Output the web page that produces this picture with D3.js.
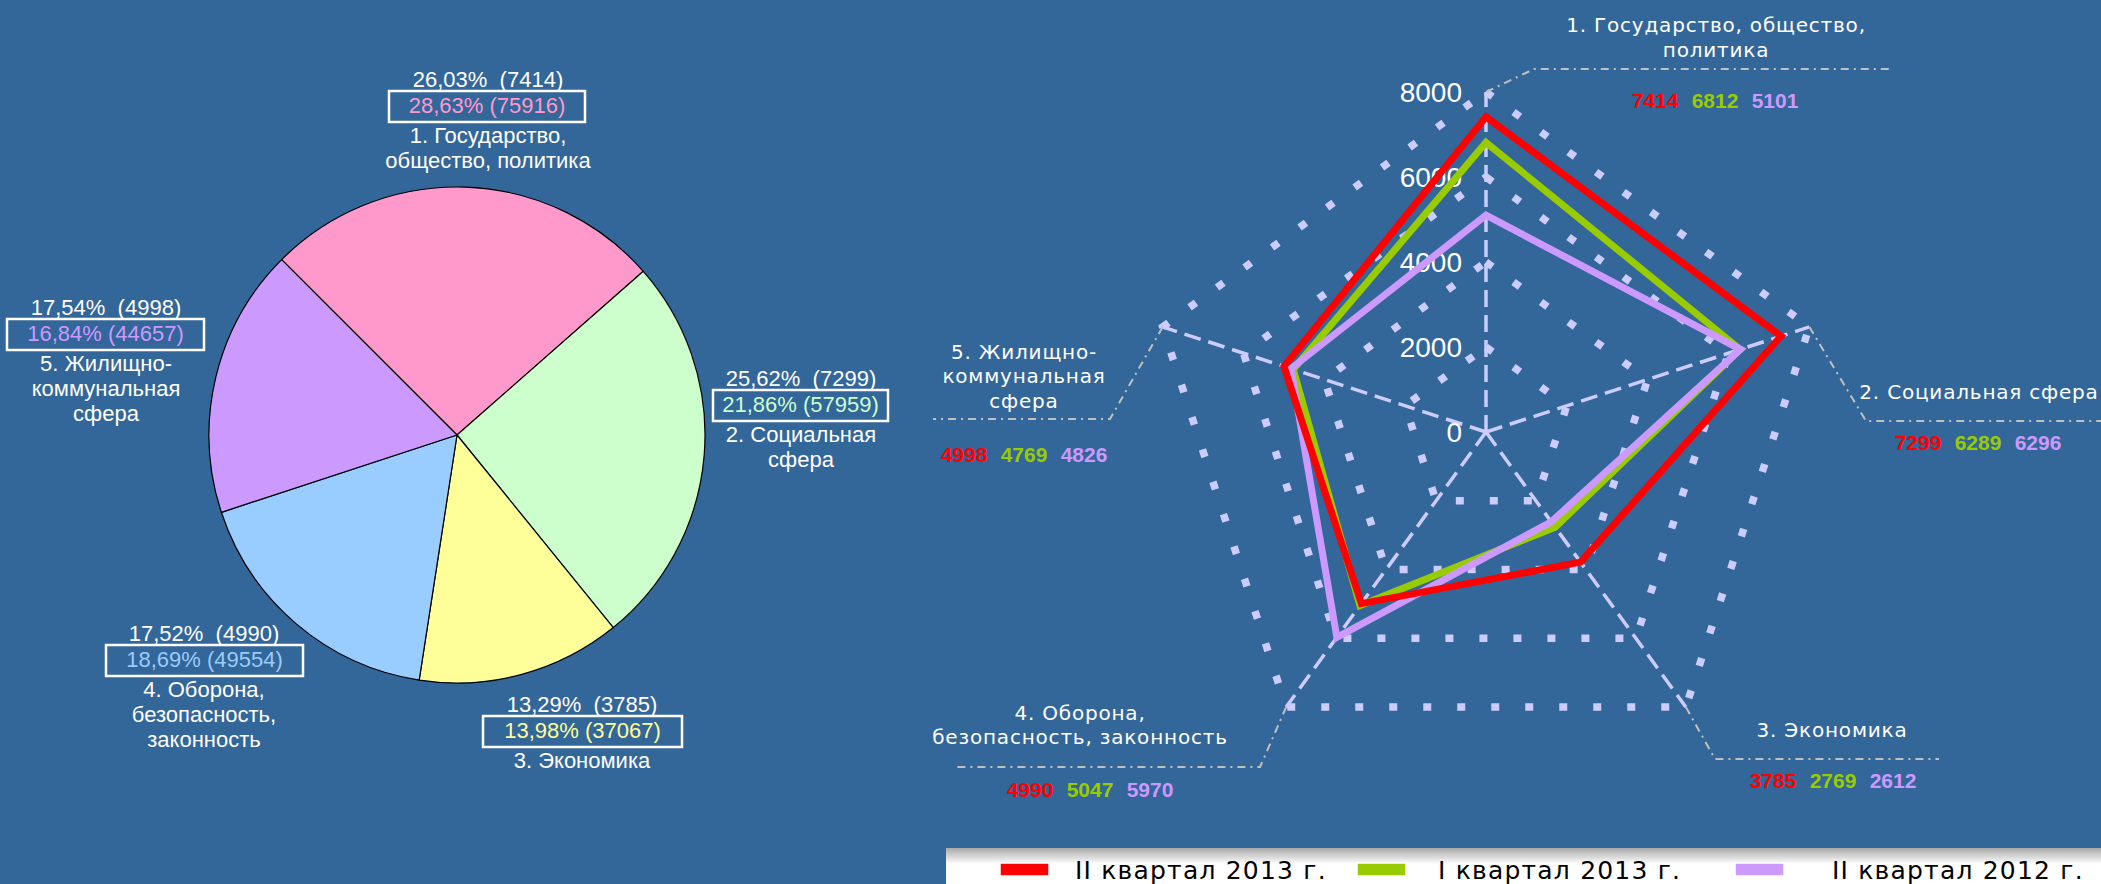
<!DOCTYPE html>
<html><head><meta charset="utf-8">
<script src="https://cdn.jsdelivr.net/npm/d3@7"></script>
<style>html,body{margin:0;padding:0;background:#336699;overflow:hidden}svg{display:block}</style>
</head><body>
<svg id="chart" width="2101" height="884"></svg>
<script>
// ---------- DATA ----------
const categoryIds = ["c1", "c2", "c3", "c4", "c5"];
const pieLabelLines = [
  ["1. Государство,", "общество, политика"],
  ["2. Социальная", "сфера"],
  ["3. Экономика"],
  ["4. Оборона,", "безопасность,", "законность"],
  ["5. Жилищно-", "коммунальная", "сфера"]
];
const radarLabelLines = [
  ["1. Государство, общество,", "политика"],
  ["2. Социальная сфера"],
  ["3. Экономика"],
  ["4. Оборона,", "безопасность, законность"],
  ["5. Жилищно-", "коммунальная", "сфера"]
];
const pieValues = [7414, 7299, 3785, 4990, 4998];
const piePercents = ["26,03%", "25,62%", "13,29%", "17,52%", "17,54%"];
const prevPercents = ["28,63%", "21,86%", "13,98%", "18,69%", "16,84%"];
const prevValues = [75916, 57959, 37067, 49554, 44657];
const seriesNames = ["II квартал 2013 г.", "I квартал 2013 г.", "II квартал 2012 г."];
const q2_2013 = [7414, 7299, 3785, 4990, 4998];
const q1_2013 = [6812, 6289, 2769, 5047, 4769];
const q2_2012 = [5101, 6296, 2612, 5970, 4826];
const radarTicks = [0, 2000, 4000, 6000, 8000];

// ---------- STYLE / LAYOUT ----------
const pieColors = ["#FF99CC", "#CCFFCC", "#FFFF99", "#99CCFF", "#CC99FF"];
const seriesColors = ["#FF0000", "#99CC00", "#CC99FF"];
const gridColor = "#CCCCFF";
const svg = d3.select("#chart");
svg.append("rect").attr("width", 2101).attr("height", 884).attr("fill", "#336699");

// ---------- PIE ----------
const pieC = {x: 457, y: 435, r: 248};
const pie = d3.pie().sort(null).value(d => d)
  .startAngle(-Math.PI / 4).endAngle(2 * Math.PI - Math.PI / 4);
const arc = d3.arc().innerRadius(0).outerRadius(pieC.r);
const pg = svg.append("g").attr("transform", `translate(${pieC.x},${pieC.y})`);
pg.selectAll("path").data(pie(pieValues)).join("path")
  .attr("d", arc).attr("fill", (d, i) => pieColors[i])
  .attr("stroke", "#000").attr("stroke-width", 1.2).attr("stroke-linejoin", "round");

const pieLabelPos = [
  {cx: 488, y0: 87, bx0: 389, bx1: 585},
  {cx: 801, y0: 386, bx0: 713, bx1: 888},
  {cx: 582, y0: 712, bx0: 483, bx1: 682},
  {cx: 204, y0: 641, bx0: 106, bx1: 303},
  {cx: 106, y0: 315, bx0: 7, bx1: 204}
];
const pieFont = "'Liberation Sans', Arial, sans-serif";
pieLabelPos.forEach((p, i) => {
  const g = svg.append("g").attr("font-family", pieFont).attr("font-size", 22)
    .attr("text-anchor", "middle");
  g.append("text").attr("x", p.cx).attr("y", p.y0).attr("fill", "#fff")
    .attr("xml:space", "preserve")
    .text(`${piePercents[i]}  (${pieValues[i]})`);
  g.append("rect").attr("x", p.bx0).attr("y", p.y0 + 4)
    .attr("width", p.bx1 - p.bx0).attr("height", 31)
    .attr("fill", "none").attr("stroke", "#fff").attr("stroke-width", 2.5);
  g.append("text").attr("x", (p.bx0 + p.bx1) / 2).attr("y", p.y0 + 26)
    .attr("fill", pieColors[i]).text(`${prevPercents[i]} (${prevValues[i]})`);
  pieLabelLines[i].forEach((ln, k) => {
    g.append("text").attr("x", p.cx).attr("y", p.y0 + 56 + k * 25)
      .attr("fill", "#fff").text(ln);
  });
});

// ---------- RADAR ----------
const rc = {x: 1486, y: 432};
const rScale = d3.scaleLinear().domain([0, 8000]).range([0, 340]);
const angle = d3.scalePoint().domain(categoryIds).range([0, 2 * Math.PI * 4 / 5]);
const pt = (i, v) => {
  const a = angle(categoryIds[i]);
  return [rc.x + rScale(v) * Math.sin(a), rc.y - rScale(v) * Math.cos(a)];
};
const rg = svg.append("g");
// gridlines
radarTicks.filter(t => t > 0).forEach(t => {
  rg.append("path")
    .attr("d", d3.line()(categoryIds.map((c, i) => pt(i, t))) + "Z")
    .attr("fill", "none").attr("stroke", gridColor).attr("stroke-width", 7.5)
    .attr("stroke-dasharray", "8,26");
});
// spokes
categoryIds.forEach((c, i) => {
  const [x, y] = pt(i, 8000);
  rg.append("line").attr("x1", rc.x).attr("y1", rc.y).attr("x2", x).attr("y2", y)
    .attr("stroke", gridColor).attr("stroke-width", 3.5).attr("stroke-dasharray", "17,8");
});
// tick labels
rg.selectAll("text.tick").data(radarTicks).join("text").attr("class", "tick")
  .attr("x", 1462).attr("y", d => rc.y - rScale(d)).attr("dy", "0.36em")
  .attr("text-anchor", "end").attr("fill", "#fff")
  .attr("font-family", pieFont).attr("font-size", 28).text(d => d);

// series
const series = [q2_2013, q1_2013, q2_2012];
const drawOrder = [1, 2, 0];
drawOrder.forEach(s => {
  rg.append("path")
    .attr("d", d3.line()(series[s].map((v, i) => pt(i, v))) + "Z")
    .attr("fill", "none").attr("stroke", seriesColors[s]).attr("stroke-width", 7)
    .attr("stroke-linejoin", "miter").attr("stroke-miterlimit", 10);
});

// category labels + leaders + data labels
const radarLabelPos = [
  {cx: 1716, ys: [32, 57], dcx: 1715, dy: 108, leader: [[1534, 69], [1892, 69]]},
  {cx: 1979, ys: [399], dcx: 1978, dy: 450, leader: [[1866, 421], [2101, 421]]},
  {cx: 1832, ys: [737], dcx: 1833, dy: 788, leader: [[1715, 759], [1939, 759]]},
  {cx: 1080, ys: [720, 744], dcx: 1090, dy: 797, leader: [[1260, 767], [954, 767]]},
  {cx: 1024, ys: [359, 383, 408], dcx: 1024, dy: 462, leader: [[1110, 419], [933, 419]]}
];
const vFont = "'DejaVu Sans', Verdana, sans-serif";
radarLabelPos.forEach((p, i) => {
  const start = pt(i, 8000);
  rg.append("path").attr("d", d3.line()([start, ...p.leader]))
    .attr("fill", "none").attr("stroke", "#C0C0C0").attr("stroke-width", 2)
    .attr("stroke-dasharray", "8,5,2,5");
  radarLabelLines[i].forEach((ln, k) => {
    rg.append("text").attr("x", p.cx).attr("y", p.ys[k]).attr("text-anchor", "middle")
      .attr("fill", "#fff").attr("font-family", vFont).attr("font-size", 20)
      .attr("letter-spacing", 0.8).text(ln);
  });
  series.forEach((s, si) => {
    rg.append("text").attr("x", p.dcx + (si - 1) * 60).attr("y", p.dy)
      .attr("text-anchor", "middle").attr("fill", seriesColors[si])
      .attr("font-family", pieFont).attr("font-weight", "bold").attr("font-size", 21)
      .text(s[i]);
  });
});

// ---------- LEGEND ----------
const defs = svg.append("defs");
const grad = defs.append("linearGradient").attr("id", "lg").attr("x1", 0).attr("y1", 0).attr("x2", 0).attr("y2", 1);
grad.append("stop").attr("offset", "0%").attr("stop-color", "#A8A8A8");
grad.append("stop").attr("offset", "40%").attr("stop-color", "#FFFFFF");
grad.append("stop").attr("offset", "100%").attr("stop-color", "#FFFFFF");
const lgd = svg.append("g");
lgd.append("rect").attr("x", 946).attr("y", 848).attr("width", 1155).attr("height", 40).attr("fill", "url(#lg)");
const legendRectX = [1000, 1357, 1735];
const legendTextX = [1075, 1438, 1832];
seriesNames.forEach((n, i) => {
  lgd.append("rect").attr("x", legendRectX[i]).attr("y", 863).attr("width", 49).attr("height", 13)
    .attr("fill", seriesColors[i]).attr("stroke", "#fff").attr("stroke-width", 1.5);
  lgd.append("text").attr("x", legendTextX[i]).attr("y", 879).attr("fill", "#000")
    .attr("font-family", vFont).attr("font-size", 25).attr("letter-spacing", 1.2).text(n);
});
</script>
</body></html>
